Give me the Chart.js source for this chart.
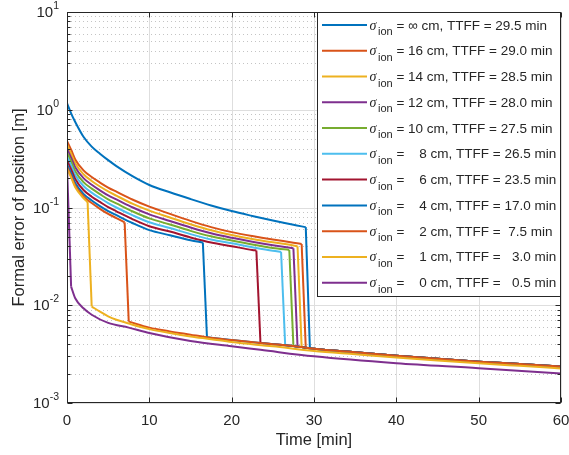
<!DOCTYPE html>
<html>
<head>
<meta charset="utf-8">
<script src="https://cdn.jsdelivr.net/npm/chart.js@4.4.1/dist/chart.umd.min.js"></script>
<style>
  html, body { margin: 0; padding: 0; background: #fff; }
  #wrap { width: 569px; height: 455px; }
</style>
</head>
<body>
<div id="wrap"><canvas id="grafico"></canvas></div>
<script>
// axis ticks
const xTicks = [0, 10, 20, 30, 40, 50, 60];
const yTicks = [0.001, 0.01, 0.1, 1, 10];
const yTickExp = ['-3', '-2', '-1', '0', '1'];

// float solution (before fix), times in min, formal error in m
const tInf = [0, 0.5, 1, 2, 3, 4, 5, 6, 8, 10, 12.5, 15, 17.5, 20, 22.5, 25, 27.5, 29];
const vInf = [1.17, 0.92, 0.75, 0.53, 0.42, 0.355, 0.305, 0.265, 0.208, 0.17, 0.143, 0.122, 0.105, 0.092, 0.082, 0.0735, 0.0665, 0.063];
const t16 = [0, 0.5, 1, 2, 3, 4, 5, 6, 8, 10, 12.5, 15, 17.5, 20, 22.5, 25, 27.5, 28.5];
const v16 = [0.48, 0.39, 0.31, 0.24, 0.205, 0.18, 0.16, 0.145, 0.12, 0.102, 0.086, 0.073, 0.063, 0.056, 0.051, 0.047, 0.0437, 0.0423];
const t14 = [0, 0.5, 1, 2, 3, 4, 5, 6, 8, 10, 12.5, 15, 17.5, 20, 22.5, 25, 27.5, 28];
const v14 = [0.438, 0.356, 0.283, 0.219, 0.187, 0.164, 0.146, 0.132, 0.109, 0.093, 0.079, 0.0675, 0.0586, 0.0524, 0.0477, 0.044, 0.0409, 0.0401];
const t12 = [0, 0.5, 1, 2, 3, 4, 5, 6, 8, 10, 12.5, 15, 17.5, 20, 22.5, 25, 27.5];
const v12 = [0.40, 0.324, 0.258, 0.20, 0.171, 0.15, 0.133, 0.121, 0.10, 0.085, 0.0728, 0.0625, 0.0545, 0.049, 0.0447, 0.0412, 0.0383];
const t10 = [0, 0.5, 1, 2, 3, 4, 5, 6, 8, 10, 12.5, 15, 17.5, 20, 22.5, 25, 27];
const v10 = [0.364, 0.296, 0.235, 0.182, 0.156, 0.137, 0.121, 0.11, 0.091, 0.0774, 0.067, 0.0577, 0.0507, 0.0459, 0.0418, 0.0385, 0.0368];
const t8 = [0, 0.5, 1, 2, 3, 4, 5, 6, 8, 10, 12.5, 15, 17.5, 20, 22.5, 25, 26];
const v8 = [0.332, 0.27, 0.215, 0.166, 0.142, 0.125, 0.111, 0.10, 0.083, 0.0706, 0.0616, 0.0534, 0.0471, 0.043, 0.0392, 0.0361, 0.0353];
const t6 = [0, 0.5, 1, 2, 3, 4, 5, 6, 8, 10, 12.5, 15, 17.5, 20, 22.5, 23];
const v6 = [0.303, 0.246, 0.196, 0.151, 0.129, 0.114, 0.101, 0.0915, 0.0757, 0.0644, 0.0567, 0.0494, 0.0438, 0.0402, 0.0368, 0.0363];
const t4 = [0, 0.5, 1, 2, 3, 4, 5, 6, 8, 10, 12.5, 15, 16.5];
const v4 = [0.276, 0.224, 0.178, 0.138, 0.118, 0.1035, 0.092, 0.0834, 0.069, 0.0587, 0.0521, 0.0462, 0.0438];
const t2 = [0, 0.5, 1, 2, 3, 4, 5, 6, 7];
const v2 = [0.26, 0.21, 0.167, 0.13, 0.111, 0.097, 0.086, 0.078, 0.0705];
const t1 = [0, 0.5, 1, 2, 2.5];
const v1 = [0.25, 0.203, 0.161, 0.125, 0.114];
const t0 = [0];
const v0 = [0.27];

// fixed solution (from TTFF on)
const tFix = [7.5, 10, 12.5, 15, 17, 20, 23.5, 26.5, 27.5, 28, 28.5, 29, 29.5, 30, 35, 40, 45, 50, 55, 60];
const vFix = [0.0068, 0.0059, 0.0054, 0.005, 0.0047, 0.0044, 0.0041, 0.0039, 0.00382, 0.00378, 0.00373, 0.00368, 0.00363, 0.00358, 0.0033, 0.00305, 0.00283, 0.00265, 0.0025, 0.00236];
const tFix1 = [3, 4, 5, 6, 7.5, 10, 12.5, 15, 17.5, 20, 25, 30, 35, 40, 45, 50, 55, 60];
const vFix1 = [0.0097, 0.0086, 0.0077, 0.0071, 0.0065, 0.0057, 0.0052, 0.0048, 0.0045, 0.0042, 0.0038, 0.0034, 0.00315, 0.00292, 0.00272, 0.00255, 0.0024, 0.00226];
const tFix0 = [0.5, 1, 2, 3, 5, 7.5, 10, 15, 20, 23.5, 30, 40, 50, 60];
const vFix0 = [0.0155, 0.0118, 0.0093, 0.008, 0.0066, 0.0059, 0.0052, 0.0043, 0.0038, 0.0035, 0.003, 0.00255, 0.00227, 0.002];

const ttff = [29.5, 29.0, 28.5, 28.0, 27.5, 26.5, 23.5, 17.0, 7.5, 3.0, 0.5];
const sigmaText = [' = \u221e cm, TTFF = 29.5 min', ' = 16 cm, TTFF = 29.0 min', ' = 14 cm, TTFF = 28.5 min',
  ' = 12 cm, TTFF = 28.0 min', ' = 10 cm, TTFF = 27.5 min', ' =    8 cm, TTFF = 26.5 min',
  ' =    6 cm, TTFF = 23.5 min', ' =    4 cm, TTFF = 17.0 min', ' =    2 cm, TTFF =  7.5 min',
  ' =    1 cm, TTFF =   3.0 min', ' =    0 cm, TTFF =   0.5 min'];
const colors = ['#0072BD', '#D95319', '#EDB120', '#7E2F8E', '#77AC30', '#4DBEEE', '#A2142F',
  '#0072BD', '#D95319', '#EDB120', '#7E2F8E'];

const floatT = [tInf, t16, t14, t12, t10, t8, t6, t4, t2, t1, t0];
const floatV = [vInf, v16, v14, v12, v10, v8, v6, v4, v2, v1, v0];
const fixT = [tFix, tFix, tFix, tFix, tFix, tFix, tFix, tFix, tFix, tFix1, tFix0];
const fixV = [vFix, vFix, vFix, vFix, vFix, vFix, vFix, vFix, vFix, vFix1, vFix0];

// each curve: smooth float part, straight drop at TTFF, smooth fixed part
const datasets = [];
floatT.forEach((ts, i) => {
  const fl = ts.map((t, k) => ({x: t, y: floatV[i][k]}));
  const fx = [];
  fixT[i].forEach((t, k) => { if (t >= ttff[i]) fx.push({x: t, y: fixV[i][k]}); });
  const base = { borderColor: colors[i], backgroundColor: colors[i], borderWidth: 2,
    pointRadius: 0, fill: false, order: -i, label: 'sigma' + i };
  datasets.push(Object.assign({}, base, { data: fl, cubicInterpolationMode: 'monotone' }));
  datasets.push(Object.assign({}, base, { data: [fl[fl.length - 1], fx[0]], tension: 0 }));
  datasets.push(Object.assign({}, base, { data: fx, cubicInterpolationMode: 'monotone' }));
});

const FONT = '"Liberation Sans", Arial, Helvetica, sans-serif';
const AX = '#262626';

const matlabAxes = {
  id: 'matlabAxes',
  beforeDatasetsDraw(chart) {
    const {ctx, chartArea: a, scales: {x, y}} = chart;
    ctx.save();
    ctx.lineWidth = 1;
    ctx.strokeStyle = '#dedede';
    xTicks.forEach(v => {
      const px = Math.round(x.getPixelForValue(v)) + 0.5;
      ctx.beginPath(); ctx.moveTo(px, a.top); ctx.lineTo(px, a.bottom); ctx.stroke();
    });
    yTicks.forEach(v => {
      const py = Math.round(y.getPixelForValue(v)) + 0.5;
      ctx.beginPath(); ctx.moveTo(a.left, py); ctx.lineTo(a.right, py); ctx.stroke();
    });
    ctx.setLineDash([1, 3]);
    ctx.strokeStyle = '#c4c4c4';
    for (let d = 0; d < yTicks.length - 1; d++) {
      for (let m = 2; m <= 9; m++) {
        const py = Math.round(y.getPixelForValue(yTicks[d] * m)) + 0.5;
        ctx.beginPath(); ctx.moveTo(a.left, py); ctx.lineTo(a.right, py); ctx.stroke();
      }
    }
    ctx.restore();
  },
  afterDatasetsDraw(chart) {
    const {ctx, chartArea: a, scales: {x, y}} = chart;
    ctx.save();
    ctx.strokeStyle = AX;
    ctx.lineWidth = 1;
    const L = Math.round(a.left) + 0.5, R = Math.round(a.right) - 0.5;
    const T = Math.round(a.top) + 0.5, B = Math.round(a.bottom) - 0.5;
    ctx.strokeRect(L, T, R - L, B - T);
    // ticks
    ctx.beginPath();
    xTicks.forEach(v => {
      const px = Math.round(x.getPixelForValue(v)) + 0.5;
      ctx.moveTo(px, B); ctx.lineTo(px, B - 5);
      ctx.moveTo(px, T); ctx.lineTo(px, T + 5);
    });
    for (let d = 0; d < yTicks.length; d++) {
      const py = Math.round(y.getPixelForValue(yTicks[d])) + 0.5;
      ctx.moveTo(L, py); ctx.lineTo(L + 5, py);
      ctx.moveTo(R, py); ctx.lineTo(R - 5, py);
      if (d < yTicks.length - 1) {
        for (let m = 2; m <= 9; m++) {
          const pm = Math.round(y.getPixelForValue(yTicks[d] * m)) + 0.5;
          ctx.moveTo(L, pm); ctx.lineTo(L + 3, pm);
          ctx.moveTo(R, pm); ctx.lineTo(R - 3, pm);
        }
      }
    }
    ctx.stroke();
    // tick labels
    ctx.fillStyle = AX;
    ctx.font = '15px ' + FONT;
    ctx.textAlign = 'center';
    ctx.textBaseline = 'alphabetic';
    xTicks.forEach(v => ctx.fillText(String(v), x.getPixelForValue(v), 425));
    ctx.textAlign = 'left';
    yTicks.forEach((v, i) => {
      const py = y.getPixelForValue(v);
      ctx.font = '15px ' + FONT;
      const w10 = ctx.measureText('10').width;
      ctx.font = '10.5px ' + FONT;
      const wE = ctx.measureText(yTickExp[i]).width;
      const x0 = 59 - w10 - wE;
      ctx.font = '15px ' + FONT;
      ctx.fillText('10', x0, py + 5);
      ctx.font = '10.5px ' + FONT;
      ctx.fillText(yTickExp[i], x0 + w10, py - 3);
    });
    // axis titles
    ctx.font = '16.5px ' + FONT;
    ctx.textAlign = 'center';
    ctx.fillText('Time [min]', (a.left + a.right) / 2, 445);
    ctx.save();
    ctx.translate(24, (a.top + a.bottom) / 2);
    ctx.rotate(-Math.PI / 2);
    ctx.fillText('Formal error of position [m]', 0, 0);
    ctx.restore();
    // legend
    const lx = 317.5, ly = T, lw = R - lx, lh = 296.5 - T;
    ctx.fillStyle = '#fff';
    ctx.fillRect(lx, ly, lw, lh);
    ctx.strokeStyle = AX;
    ctx.strokeRect(lx, ly, lw, lh);
    ctx.textAlign = 'left';
    colors.forEach((c, i) => {
      const ry = 25 + i * 25.77;
      ctx.strokeStyle = c;
      ctx.lineWidth = 2;
      ctx.beginPath(); ctx.moveTo(322, ry); ctx.lineTo(367, ry); ctx.stroke();
      ctx.fillStyle = AX;
      ctx.font = 'italic 14px "Liberation Serif", serif';
      ctx.fillText('\u03c3', 369.5, ry + 4.5);
      ctx.font = '11px ' + FONT;
      ctx.fillText('ion', 378, ry + 10);
      const wi = ctx.measureText('ion').width;
      ctx.font = '13.5px ' + FONT;
      ctx.fillText(sigmaText[i], 378 + wi, ry + 4.5);
    });
    ctx.restore();
  }
};

const ctx = document.getElementById('grafico');
new Chart(ctx, {
  type: 'line',
  data: { datasets: datasets },
  options: {
    responsive: true,
    maintainAspectRatio: false,
    animation: false,
    events: [],
    layout: { padding: { left: 0, right: 8, top: 12, bottom: 0 } },
    plugins: { legend: { display: false }, tooltip: { enabled: false } },
    scales: {
      x: {
        type: 'linear', min: 0, max: 60,
        grid: { display: false }, border: { display: false },
        ticks: { display: false },
        afterFit: s => { s.height = 52; }
      },
      y: {
        type: 'logarithmic', min: 0.001, max: 10,
        grid: { display: false }, border: { display: false },
        ticks: { display: false },
        afterFit: s => { s.width = 67; }
      }
    }
  },
  plugins: [matlabAxes]
});
</script>
</body>
</html>
